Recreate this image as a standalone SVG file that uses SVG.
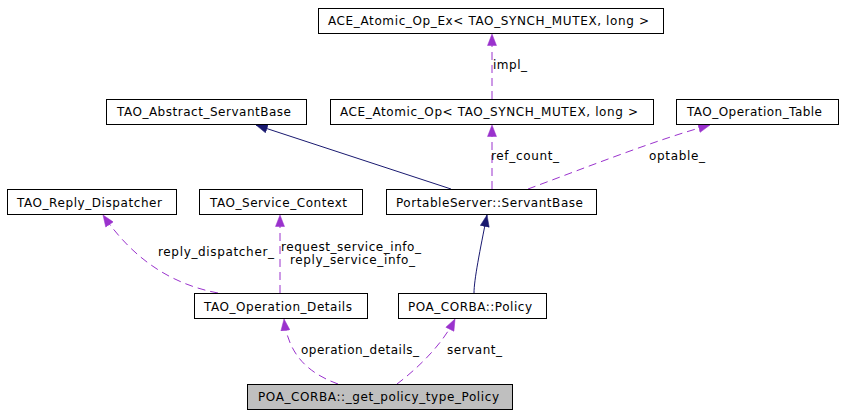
<svg xmlns="http://www.w3.org/2000/svg" width="843" height="416" viewBox="0 0 843 416">
<defs>
<style>
.node rect{fill:#ffffff;stroke:#000000;stroke-width:1}
.node.cur rect{fill:#bfbfbf}
text{font-family:"DejaVu Sans","Liberation Sans",sans-serif;font-size:12px;fill:#000000}
.use{fill:none;stroke:#9a32cd;stroke-width:1;stroke-dasharray:8,5}
.inh{fill:none;stroke:#191970;stroke-width:1}
</style>
<marker id="ap" viewBox="0 0 12 10" refX="12" refY="5" markerWidth="12" markerHeight="10" markerUnits="userSpaceOnUse" orient="auto"><path d="M0.5,0.5 L12,5 L0.5,9.5 Z" fill="#9a32cd" stroke="#9a32cd" stroke-width="0.5"/></marker>
<marker id="an" viewBox="0 0 12 10" refX="12" refY="5" markerWidth="12" markerHeight="10" markerUnits="userSpaceOnUse" orient="auto"><path d="M0.5,0.5 L12,5 L0.5,9.5 Z" fill="#191970" stroke="#191970" stroke-width="0.5"/></marker>
</defs>
<rect width="843" height="416" fill="#ffffff"/>
<g id="edges">
<path class="use" d="M492,99 L492,34" marker-end="url(#ap)"/>
<path class="use" d="M492,189 L492,125" marker-end="url(#ap)"/>
<path class="use" d="M528,189 C585,168 655,140 710,125" marker-end="url(#ap)"/>
<path class="inh" d="M451,189 L256,125" marker-end="url(#an)"/>
<path class="inh" d="M474,293 C474,280 480,250 487,215" marker-end="url(#an)"/>
<path class="use" d="M218,293 C175,285 135,262 103,215" marker-end="url(#ap)"/>
<path class="use" d="M280,293 L280,215" marker-end="url(#ap)"/>
<path class="use" d="M338,384 C305,372 288,352 284,319" marker-end="url(#ap)"/>
<path class="use" d="M397,384 C418,368 442,345 455,319" marker-end="url(#ap)"/>
<text x="493" y="69" textLength="34" lengthAdjust="spacing">impl_</text>
<text x="491" y="160" textLength="68" lengthAdjust="spacing">ref_count_</text>
<text x="649" y="160" textLength="56" lengthAdjust="spacing">optable_</text>
<text x="158" y="256" textLength="116" lengthAdjust="spacing">reply_dispatcher_</text>
<text x="281" y="251" textLength="140" lengthAdjust="spacing">request_service_info_</text>
<text x="290" y="264" textLength="125" lengthAdjust="spacing">reply_service_info_</text>
<text x="301" y="354" textLength="118" lengthAdjust="spacing">operation_details_</text>
<text x="447" y="354" textLength="55" lengthAdjust="spacing">servant_</text>
</g>
<g id="n_ace_ex" class="node"><rect x="318.5" y="8.5" width="345" height="25"/><text x="328" y="25" textLength="321" lengthAdjust="spacing">ACE_Atomic_Op_Ex&lt; TAO_SYNCH_MUTEX, long &gt;</text></g>
<g id="n_ace" class="node"><rect x="330.5" y="99.5" width="323" height="25"/><text x="340" y="116" textLength="298" lengthAdjust="spacing">ACE_Atomic_Op&lt; TAO_SYNCH_MUTEX, long &gt;</text></g>
<g id="n_abs" class="node"><rect x="106.5" y="99.5" width="200" height="25"/><text x="117" y="116" textLength="174" lengthAdjust="spacing">TAO_Abstract_ServantBase</text></g>
<g id="n_optable" class="node"><rect x="676.5" y="99.5" width="162" height="25"/><text x="687" y="116" textLength="135" lengthAdjust="spacing">TAO_Operation_Table</text></g>
<g id="n_reply" class="node"><rect x="7.5" y="189.5" width="169" height="25"/><text x="17" y="207" textLength="145" lengthAdjust="spacing">TAO_Reply_Dispatcher</text></g>
<g id="n_svc" class="node"><rect x="199.5" y="189.5" width="163" height="25"/><text x="210" y="207" textLength="137" lengthAdjust="spacing">TAO_Service_Context</text></g>
<g id="n_psb" class="node"><rect x="386.5" y="189.5" width="210" height="25"/><text x="396" y="207" textLength="187" lengthAdjust="spacing">PortableServer::ServantBase</text></g>
<g id="n_opd" class="node"><rect x="194.5" y="293.5" width="173" height="25"/><text x="204" y="311" textLength="148" lengthAdjust="spacing">TAO_Operation_Details</text></g>
<g id="n_pol" class="node"><rect x="398.5" y="293.5" width="148" height="25"/><text x="408" y="311" textLength="124" lengthAdjust="spacing">POA_CORBA::Policy</text></g>
<g id="n_cur" class="node cur"><rect x="247.5" y="384.5" width="265" height="25"/><text x="258" y="401" textLength="241" lengthAdjust="spacing">POA_CORBA::_get_policy_type_Policy</text></g>
</svg>
